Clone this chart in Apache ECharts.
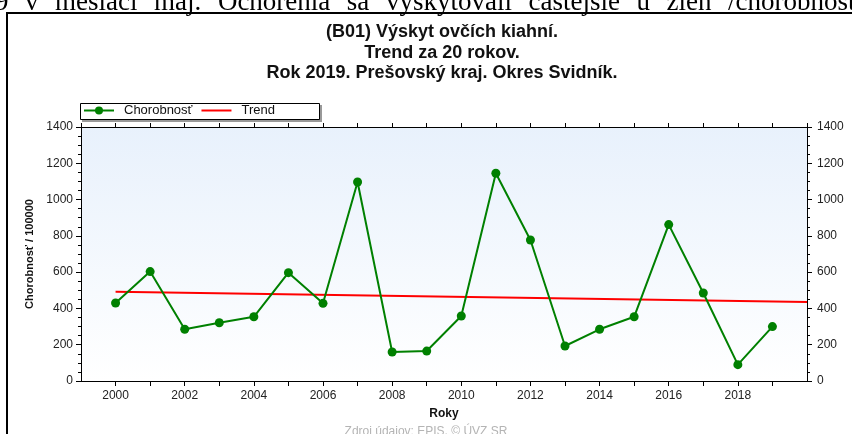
<!DOCTYPE html>
<html>
<head>
<meta charset="utf-8">
<script src="https://cdn.jsdelivr.net/npm/echarts@6/dist/echarts.min.js"></script>
<style>
  html, body { margin: 0; padding: 0; background: #fff; }
  #chart { width: 852px; height: 434px; }
</style>
</head>
<body>
<div id="chart"></div>
<script>
// rok a chorobnosť na 100000
const years = [2000, 2001, 2002, 2003, 2004, 2005, 2006, 2007, 2008, 2009,
               2010, 2011, 2012, 2013, 2014, 2015, 2016, 2017, 2018, 2019];
const chorobnost = [430, 603, 285, 321, 354, 597, 428, 1097, 160, 165,
                    358, 1145, 777, 193, 285, 354, 862, 485, 90, 300];
// trend - začiatok a koniec priamky
const trendYears = [2000, 2020];
const trendValues = [492, 436];

const titleLines = ['(B01) Výskyt ovčích kiahní.', 'Trend za 20 rokov.', 'Rok 2019. Prešovský kraj. Okres Svidník.'];
const seriesNames = ['Chorobnosť', 'Trend'];
const yAxisName = 'Chorobnosť / 100000';
const xAxisName = 'Roky';
const sourceText = 'Zdroj údajov: EPIS, © ÚVZ SR';
const pageWords = ['9', 'v', 'mesiaci', 'máj.', 'Ochorenia', 'sa', 'vyskytovali', 'častejšie', 'u', 'žien', '/chorobnosť'];

const chart = echarts.init(document.getElementById('chart'));

const font = 'Liberation Sans, Arial, sans-serif';
const pageFont = '27px "Liberation Serif", "Times New Roman", serif';

// zarovnaný (do bloku) riadok textu dokumentu nad grafom
function pageLine() {
  const ctx = document.createElement('canvas').getContext('2d');
  ctx.font = pageFont;
  const widths = pageWords.map(w => ctx.measureText(w).width);
  const startX = -5, lastX = 728;
  const before = widths.slice(0, -1).reduce((a, b) => a + b, 0);
  const gap = (lastX - startX - before) / (pageWords.length - 1);
  let x = startX;
  return pageWords.map((w, i) => {
    const el = {
      type: 'text', x: x, y: -11, silent: true,
      style: { text: w, font: pageFont, fill: '#000' }
    };
    x += widths[i] + gap;
    return el;
  });
}

const yAxisCommon = {
  type: 'value',
  min: 0,
  max: 1400,
  interval: 200,
  axisLine: { show: true, lineStyle: { color: '#000', width: 1 } },
  axisTick: { show: true, length: 5, lineStyle: { color: '#000' } },
  minorTick: { show: true, splitNumber: 4, length: 3, lineStyle: { color: '#000' } },
  splitLine: { show: false },
  axisLabel: { color: '#222', fontSize: 12, fontFamily: font, margin: 8, formatter: v => String(v) }
};

const option = {
  backgroundColor: '#fff',
  animation: false,
  title: {
    text: titleLines.join('\n'),
    left: 437,
    top: 17,
    textAlign: 'center',
    textStyle: { fontFamily: font, fontSize: 18, fontWeight: 'bold', color: '#111', lineHeight: 20.5 }
  },
  legend: {
    left: 83,
    top: 104,
    itemWidth: 30,
    itemHeight: 10,
    itemGap: 8,
    padding: 0,
    data: [
      { name: seriesNames[0] },
      { name: seriesNames[1], itemStyle: { opacity: 0 } }
    ],
    textStyle: { fontFamily: font, fontSize: 13, color: '#111', padding: [0, 0, 0, 5] }
  },
  grid: {
    left: 81,
    right: 45,
    top: 127,
    bottom: 53,
    show: true,
    borderWidth: 0,
    backgroundColor: new echarts.graphic.LinearGradient(0, 0, 0, 1, [
      { offset: 0, color: '#e8f1fc' },
      { offset: 1, color: '#ffffff' }
    ])
  },
  xAxis: [
    {
      type: 'value',
      min: 1999,
      max: 2020,
      interval: 1,
      name: xAxisName,
      nameLocation: 'middle',
      nameGap: 27,
      nameTextStyle: { fontFamily: font, fontSize: 12, fontWeight: 'bold', color: '#111' },
      axisLine: { show: true, onZero: false, lineStyle: { color: '#000', width: 1 } },
      axisTick: { show: true, length: 5, lineStyle: { color: '#000' } },
      splitLine: { show: false },
      axisLabel: {
        color: '#222', fontSize: 12, fontFamily: font, margin: 9,
        showMinLabel: false, showMaxLabel: false,
        formatter: v => (v % 2 === 0 && v < 2020 ? String(v) : '')
      }
    },
    {
      type: 'value',
      position: 'top',
      min: 1999,
      max: 2020,
      interval: 1,
      axisLine: { show: true, onZero: false, lineStyle: { color: '#000', width: 1 } },
      axisTick: { show: true, length: 4, lineStyle: { color: '#000' } },
      splitLine: { show: false },
      axisLabel: { show: false }
    }
  ],
  yAxis: [
    Object.assign({}, yAxisCommon, {
      position: 'left',
      name: yAxisName,
      nameLocation: 'middle',
      nameGap: 30,
      nameRotate: 90,
      nameTextStyle: { fontFamily: font, fontSize: 11, fontWeight: 'bold', color: '#111' }
    }),
    Object.assign({}, yAxisCommon, {
      position: 'right',
      axisLabel: { color: '#222', fontSize: 12, fontFamily: font, margin: 10, formatter: v => String(v) }
    })
  ],
  series: [
    {
      name: seriesNames[0],
      type: 'line',
      data: years.map((y, i) => [y, chorobnost[i]]),
      symbol: 'circle',
      symbolSize: 9,
      lineStyle: { color: '#008000', width: 2 },
      itemStyle: { color: '#008000' },
      z: 3
    },
    {
      name: seriesNames[1],
      type: 'line',
      data: trendYears.map((y, i) => [y, trendValues[i]]),
      symbol: 'none',
      lineStyle: { color: '#ff0000', width: 2 },
      itemStyle: { color: '#ff0000' },
      z: 2
    }
  ],
  graphic: pageLine().concat([
    // rámik obrázka
    { type: 'line', shape: { x1: 6, y1: 13, x2: 852, y2: 13 }, style: { stroke: '#000', lineWidth: 2 } },
    { type: 'line', shape: { x1: 7, y1: 12, x2: 7, y2: 434 }, style: { stroke: '#000', lineWidth: 2 } },
    // rámik legendy s tieňom
    { type: 'rect', shape: { x: 82, y: 105, width: 240, height: 17 }, style: { fill: '#999' }, z: -1 },
    { type: 'rect', shape: { x: 80.5, y: 103.5, width: 239, height: 16 }, style: { fill: '#fff', stroke: '#000', lineWidth: 1 }, z: 0 },
    // zdroj
    {
      type: 'text', left: 'center', top: 426, silent: true,
      style: { text: sourceText, font: '12px "Liberation Sans", Arial, sans-serif', fill: '#b4b4b4', x: 7 }
    }
  ])
};

chart.setOption(option);
</script>
</body>
</html>
